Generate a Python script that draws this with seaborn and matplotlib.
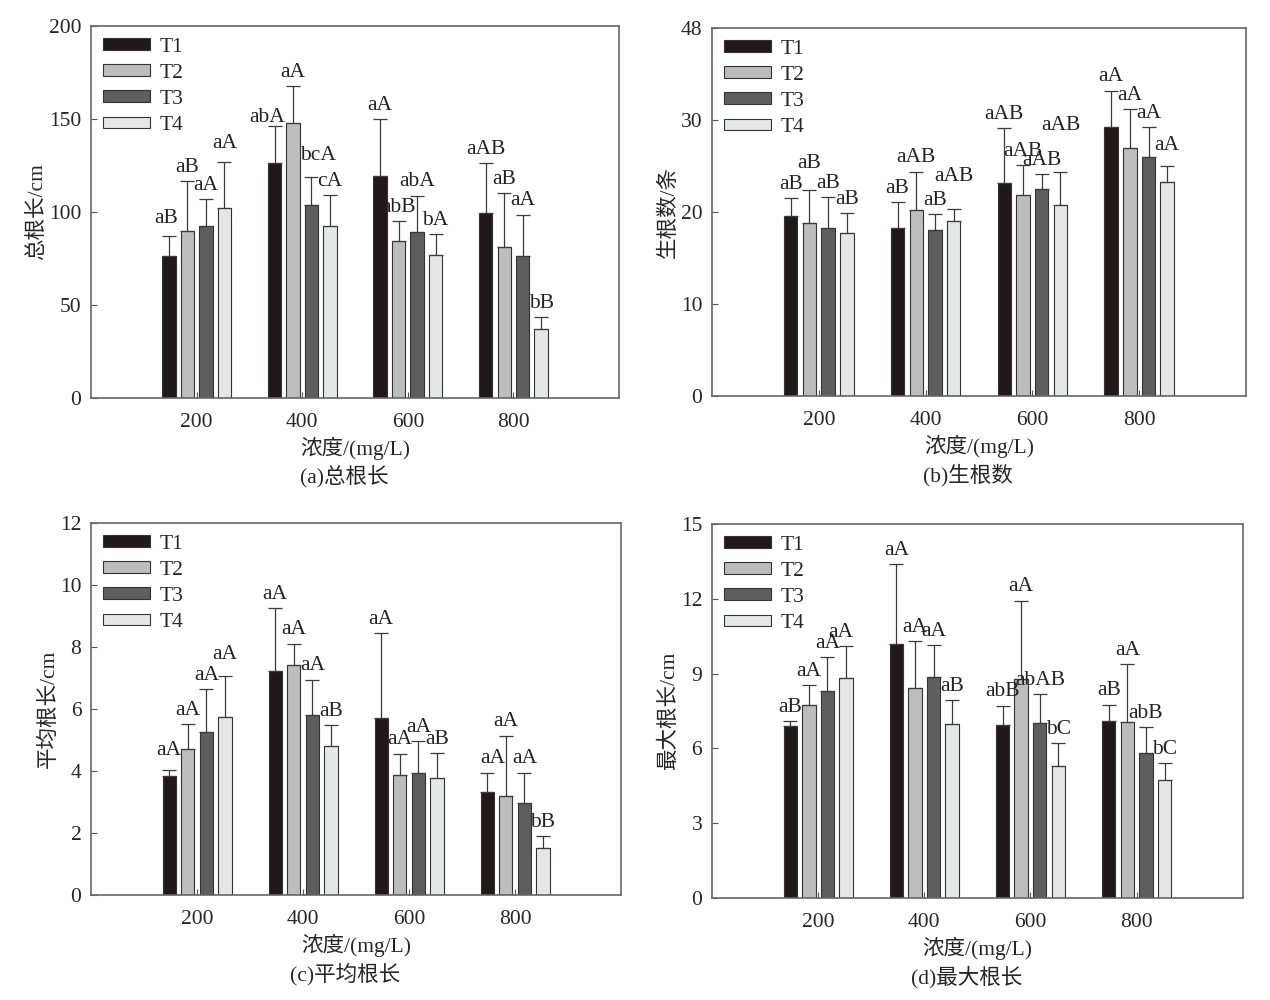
import matplotlib
matplotlib.use('Agg')
import matplotlib.pyplot as plt
import seaborn as sns
import pandas as pd

# Data
conc = ['200', '400', '600', '800']
groups = ['T1', 'T2', 'T3', 'T4']
colors = ['#231815', '#bdbdbd', '#5e5e5e', '#e5e6e6']

# (a) total root length, rows = T1..T4, columns = 200..800
total_len = [[76.3, 126.5, 119.2, 99.6],
             [90.0, 147.8, 84.2, 81.2],
             [92.6, 103.8, 89.2, 76.3],
             [102.3, 92.6, 76.9, 37.3]]
total_len_err = [[10.8, 19.7, 30.6, 26.9],
                 [26.7, 19.8, 10.8, 29.0],
                 [14.4, 14.8, 19.6, 22.3],
                 [24.7, 16.7, 11.3, 6.4]]
total_len_sig = [['aB', 'abA', 'aA', 'aAB'],
                 ['aB', 'aA', 'abB', 'aB'],
                 ['aA', 'bcA', 'abA', 'aA'],
                 ['aA', 'cA', 'bA', 'bB']]

# (b) root number
root_num = [[19.6, 18.3, 23.2, 29.2],
            [18.8, 20.2, 21.8, 27.0],
            [18.3, 18.0, 22.5, 26.0],
            [17.7, 19.0, 20.8, 23.3]]
root_num_err = [[1.9, 2.8, 5.9, 4.0],
                [3.6, 4.2, 3.3, 4.2],
                [3.3, 1.8, 1.6, 3.2],
                [2.2, 1.3, 3.6, 1.7]]
root_num_sig = [['aB', 'aB', 'aAB', 'aA'],
                ['aB', 'aAB', 'aAB', 'aA'],
                ['aB', 'aB', 'aAB', 'aA'],
                ['aB', 'aAB', 'aAB', 'aA']]

# (c) mean root length
mean_len = [[3.83, 7.21, 5.72, 3.31],
            [4.71, 7.43, 3.86, 3.20],
            [5.26, 5.81, 3.94, 2.97],
            [5.74, 4.82, 3.76, 1.53]]
mean_len_err = [[0.20, 2.04, 2.73, 0.64],
                [0.81, 0.68, 0.70, 1.94],
                [1.39, 1.14, 1.03, 0.98],
                [1.31, 0.66, 0.83, 0.36]]
mean_len_sig = [['aA', 'aA', 'aA', 'aA'],
                ['aA', 'aA', 'aA', 'aA'],
                ['aA', 'aA', 'aA', 'aA'],
                ['aA', 'aB', 'aB', 'bB']]

# (d) max root length
max_len = [[6.89, 10.19, 6.93, 7.08],
           [7.76, 8.44, 8.77, 7.04],
           [8.32, 8.85, 7.00, 5.82],
           [8.81, 6.97, 5.31, 4.74]]
max_len_err = [[0.19, 3.21, 0.79, 0.68],
               [0.79, 1.86, 3.16, 2.34],
               [1.34, 1.29, 1.19, 1.04],
               [1.29, 0.96, 0.89, 0.68]]
max_len_sig = [['aB', 'aA', 'abB', 'aB'],
               ['aA', 'aA', 'aA', 'aA'],
               ['aA', 'aA', 'abAB', 'abB'],
               ['aA', 'aB', 'bC', 'bC']]

panels = [
    (total_len, total_len_err, total_len_sig, '总根长/cm', '(a)总根长',
     [0, 50, 100, 150, 200], ['0', '50', '100', '150', '200'], 200),
    (root_num, root_num_err, root_num_sig, '生根数/条', '(b)生根数',
     [0, 10, 20, 30, 40], ['0', '10', '20', '30', '48'], 40),
    (mean_len, mean_len_err, mean_len_sig, '平均根长/cm', '(c)平均根长',
     [0, 2, 4, 6, 8, 10, 12], ['0', '2', '4', '6', '8', '10', '12'], 12),
    (max_len, max_len_err, max_len_sig, '最大根长/cm', '(d)最大根长',
     [0, 3, 6, 9, 12, 15], ['0', '3', '6', '9', '12', '15'], 15),
]

positions = [[0.0717, 0.602, 0.4157, 0.372],
             [0.5606, 0.604, 0.4205, 0.368],
             [0.0717, 0.105, 0.4173, 0.372],
             [0.5606, 0.102, 0.4180, 0.374]]

# hand placement of a few letters (panel, group, conc) -> offset in points
nudge = {(0, 0, 0): (-2, 3), (0, 3, 0): (0, 3), (0, 0, 1): (-5, -4),
         (0, 2, 1): (5, 6),
         (1, 1, 0): (0, 9), (1, 3, 1): (0, 14), (1, 3, 2): (0, 23),
         (1, 3, 3): (0, 5),
         (2, 0, 0): (0, 4), (2, 3, 0): (0, 6), (2, 0, 3): (4, 0),
         (3, 3, 0): (-4, 0)}

sns.set_style('ticks')
plt.rcParams['font.family'] = ['Liberation Serif', 'Noto Sans CJK SC']
fs = 15.5
plt.rcParams['font.size'] = fs

fig = plt.figure(figsize=(12.7, 10), dpi=100)

for pi, (pos, (vals, errs, sigs, ylab, cap, yt, ytl, ymax)) in enumerate(zip(positions, panels)):
    ax = fig.add_axes(pos)
    rows = []
    for gi, g in enumerate(groups):
        for ci, c in enumerate(conc):
            rows.append({'conc': c, 'group': g, 'value': vals[gi][ci]})
    df = pd.DataFrame(rows)

    sns.barplot(data=df, x='conc', y='value', hue='group', order=conc,
                hue_order=groups, palette=colors, width=0.7, gap=0.28,
                errorbar=None, edgecolor='#333333', linewidth=0.8,
                legend=False, ax=ax)
    bar_conts = list(ax.containers)

    # error bars and significance letters
    for gi, cont in enumerate(bar_conts):
        for ci, bar in enumerate(cont.patches):
            x = bar.get_x() + bar.get_width() / 2
            h = bar.get_height()
            e = errs[gi][ci]
            ax.errorbar(x, h, yerr=[[0], [e]], fmt='none', ecolor='#3a3a3a',
                        elinewidth=0.9, capsize=5, capthick=0.9)
            dx, dy = nudge.get((pi, gi, ci), (0, 0))
            ax.annotate(sigs[gi][ci], (x, h + e), xytext=(dx, 3 + dy),
                        textcoords='offset points', ha='center', va='bottom',
                        fontsize=fs, color='#222222')

    ax.set_xlim(-1, 4)
    ax.set_ylim(0, ymax)
    ax.set_yticks(yt)
    ax.set_yticklabels(ytl)
    ax.tick_params(direction='in', length=4, width=0.8, color='#555555',
                   labelsize=fs, pad=7)
    ax.tick_params(axis='x', pad=11)
    for s in ax.spines.values():
        s.set_visible(True)
        s.set_color('#666666')
        s.set_linewidth(1.2)

    ax.set_ylabel(ylab, fontsize=fs, labelpad=1)
    ax.set_xlabel('浓度/(mg/L)', fontsize=fs, labelpad=3)
    ax.annotate(cap, xy=(0.48, 0), xycoords='axes fraction', xytext=(0, -57),
                textcoords='offset points', ha='center', va='center',
                fontsize=fs)

    ax.legend(bar_conts, groups, loc='upper left', frameon=False,
              fontsize=fs, handlelength=2.2, handleheight=0.47,
              labelspacing=0.33, handletextpad=0.42, borderaxespad=0.15)

plt.savefig('out.png', dpi=100)
